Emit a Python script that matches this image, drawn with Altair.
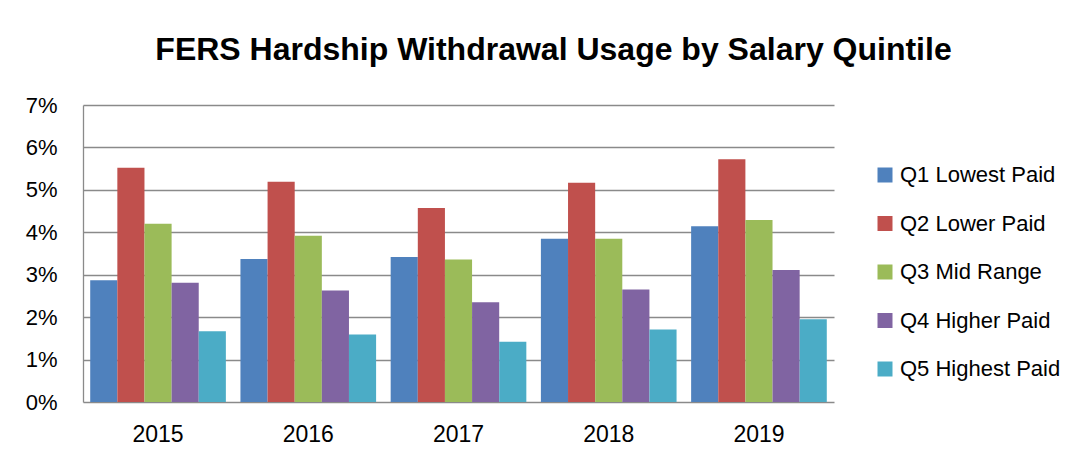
import altair as alt
import pandas as pd

years = ["2015", "2016", "2017", "2018", "2019"]
quintiles = ["Q1 Lowest Paid", "Q2 Lower Paid", "Q3 Mid Range", "Q4 Higher Paid", "Q5 Highest Paid"]
q1 = [0.0287, 0.0337, 0.0342, 0.0385, 0.0414]
q2 = [0.0552, 0.0519, 0.0457, 0.0517, 0.0572]
q3 = [0.0420, 0.0392, 0.0336, 0.0385, 0.0429]
q4 = [0.0281, 0.0263, 0.0235, 0.0265, 0.0311]
q5 = [0.0167, 0.0159, 0.0142, 0.0171, 0.0195]
colors = ["#4F81BD", "#C0504D", "#9BBB59", "#8064A2", "#4BACC6"]

series = [q1, q2, q3, q4, q5]
rows = []
for qi, q in enumerate(quintiles):
    for yi, y in enumerate(years):
        rows.append({"Year": y, "Quintile": q, "Value": series[qi][yi]})
df = pd.DataFrame(rows)

FONT = "Liberation Sans"

chart = alt.Chart(df).mark_bar().encode(
    x=alt.X("Year:N", sort=years,
            scale=alt.Scale(paddingInner=0.097, paddingOuter=0.048),
            axis=alt.Axis(title=None, labelAngle=0, ticks=False, domain=False,
                          labelFontSize=23, labelPadding=21, labelColor="#000000",
                          labelFont=FONT)),
    xOffset=alt.XOffset("Quintile:N", sort=quintiles,
                        scale=alt.Scale(paddingInner=0, paddingOuter=0)),
    y=alt.Y("Value:Q",
            scale=alt.Scale(domain=[0, 0.07], nice=False),
            axis=alt.Axis(title=None, format=".0%", values=[0, 0.01, 0.02, 0.03, 0.04, 0.05, 0.06, 0.07],
                          ticks=False, labelFontSize=22, labelPadding=26, labelColor="#000000",
                          labelFont=FONT, grid=True, gridColor="#8a8a8a", gridWidth=1.3,
                          domain=True, domainColor="#8a8a8a", domainWidth=1.3)),
    color=alt.Color("Quintile:N", sort=quintiles,
                    scale=alt.Scale(domain=quintiles, range=colors),
                    legend=alt.Legend(title=None, orient="none", legendX=791, legendY=59,
                                      symbolType="square", symbolSize=225, symbolStrokeWidth=0,
                                      labelFontSize=22, labelFont=FONT, labelColor="#000000",
                                      labelOffset=4, rowPadding=26.5, padding=0, labelLimit=400)),
).properties(
    width=751,
    height=297,
    title=alt.TitleParams("FERS Hardship Withdrawal Usage by Salary Quintile",
                          font=FONT, fontSize=32, fontWeight="bold", color="#000000",
                          anchor="middle", dx=95, baseline="alphabetic", offset=2),
    autosize=alt.AutoSizeParams(type="none"),
    padding={"left": 75, "top": 97, "right": 244, "bottom": 52},
    background="white",
).configure_view(stroke=None)

chart.save("out.html", embed_options={"renderer": "svg", "actions": False})
